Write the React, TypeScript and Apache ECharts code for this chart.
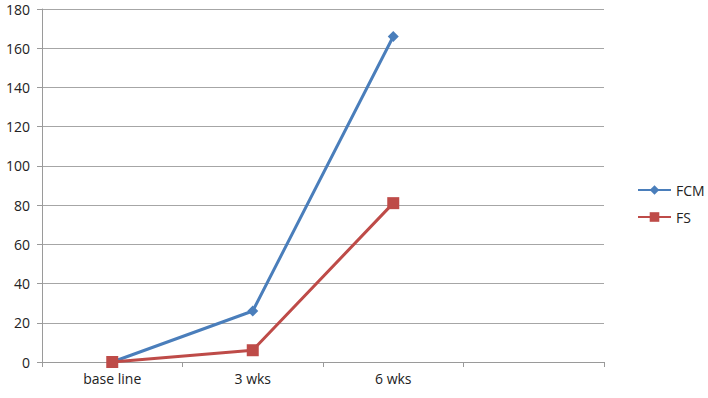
import React, { useEffect, useRef } from "react";
import * as echarts from "echarts";

const categories = ["base line", "3 wks", "6 wks", ""];
const fcmValues = [0, 26, 166, null];
const fsValues = [0, 6, 81, null];

export default function App() {
  const ref = useRef<HTMLDivElement>(null);
  useEffect(() => {
    if (!ref.current) return;
    const chart = echarts.init(ref.current, undefined, { renderer: "svg" });
    const font = "'Open Sans', 'Noto Sans', sans-serif";
    chart.setOption({
      animation: false,
      textStyle: { fontFamily: font },
      grid: { left: 42, right: 104, top: 9, bottom: 36, containLabel: false },
      legend: {
        orient: "vertical",
        left: 632,
        top: 178,
        itemWidth: 33,
        itemHeight: 12,
        itemGap: 13,
        textStyle: { fontSize: 14, color: "#222", fontFamily: font },
        data: ["FCM", "FS"],
      },
      xAxis: {
        type: "category",
        data: categories,
        boundaryGap: true,
        axisLine: { lineStyle: { color: "#9a9a9a", width: 1 } },
        axisTick: { show: true, length: 5, alignWithLabel: false, lineStyle: { color: "#9a9a9a" } },
        axisLabel: { color: "#222", fontSize: 14, margin: 9, fontFamily: font },
        splitLine: { show: false },
      },
      yAxis: {
        type: "value",
        min: 0,
        max: 180,
        interval: 20,
        axisLine: { show: true, lineStyle: { color: "#9a9a9a", width: 1 } },
        axisTick: { show: true, length: 5, lineStyle: { color: "#9a9a9a" } },
        axisLabel: { color: "#222", fontSize: 14, margin: 12, fontFamily: font },
        splitLine: { show: true, lineStyle: { color: "#a6a6a6", width: 1 } },
      },
      series: [
        {
          name: "FCM",
          type: "line",
          data: fcmValues,
          symbol: "diamond",
          symbolSize: 11,
          lineStyle: { color: "#4A7EBB", width: 3 },
          itemStyle: { color: "#4A7EBB" },
          connectNulls: false,
        },
        {
          name: "FS",
          type: "line",
          data: fsValues,
          symbol: "rect",
          symbolSize: 12,
          lineStyle: { color: "#BE4B48", width: 3 },
          itemStyle: { color: "#BE4B48" },
          connectNulls: false,
        },
      ],
    });
    return () => chart.dispose();
  }, []);
  return <div ref={ref} style={{ width: 708, height: 398, position: "absolute", left: 0, top: 0 }} />;
}
